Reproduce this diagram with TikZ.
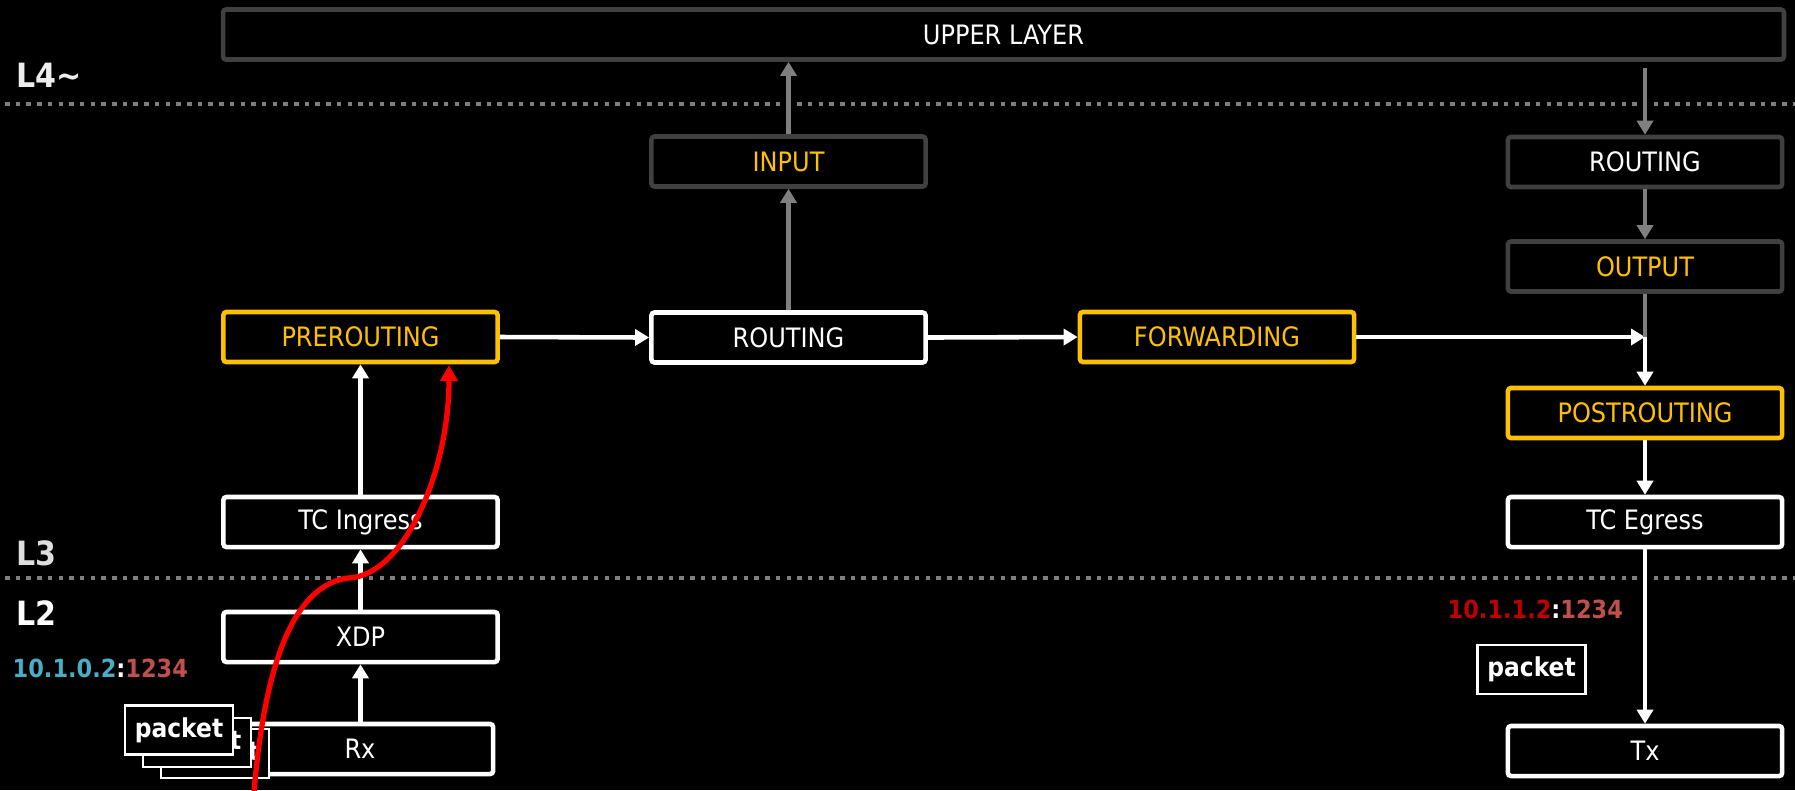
\documentclass[tikz,border=0pt]{standalone}
\usepackage{fontspec}
\setmainfont{DejaVu Sans Condensed}
\usetikzlibrary{arrows.meta}
\definecolor{hookgold}{HTML}{FFC000}
\definecolor{boxgray}{HTML}{404040}
\definecolor{flowgray}{HTML}{7F7F7F}
\definecolor{dotgray}{HTML}{7F7F7F}
\definecolor{ipblue}{HTML}{4BACC6}
\definecolor{ipred}{HTML}{C00000}
\definecolor{portred}{HTML}{C0504D}
\begin{document}
\begin{tikzpicture}[x=0.01cm,y=-0.01cm,
  stagebox/.style={draw, line width=1.3pt, rounded corners=0.03cm, fill=black,
    minimum width=2.74cm, minimum height=0.5cm, inner sep=0pt,
    font=\fontsize{7.6}{9}\selectfont},
  whitebox/.style={stagebox, draw=white, text=white},
  goldbox/.style={stagebox, draw=hookgold, text=hookgold},
  graybox/.style={stagebox, draw=boxgray, text=white},
  grayhook/.style={stagebox, draw=boxgray, text=hookgold},
  flow/.style={white, line width=1.3pt, -{Triangle[length=0.14cm,width=0.16cm]}},
  grayflow/.style={flowgray, line width=1.3pt, -{Triangle[length=0.14cm,width=0.16cm]}},
  layersep/.style={dotgray, line width=0.045cm, dash pattern=on 0.045cm off 0.062cm},
  layerlabel/.style={anchor=base west, inner sep=0pt, font=\fontsize{9.5}{11}\selectfont\bfseries},
  pkt/.style={draw=white, fill=black, line width=0.8pt, text=white, inner sep=0pt,
    minimum width=1.08cm, minimum height=0.49cm, font=\fontsize{7.4}{9}\selectfont\bfseries},
  addr/.style={anchor=base west, inner sep=0pt, font=\fontsize{7.1}{9}\selectfont\bfseries}
]
% canvas
\fill[black] (0,0) rectangle (1795,790);
\useasboundingbox (0,0) rectangle (1795,790);

% layer separators and labels
\draw[layersep] (5,104) -- (1795,104);
\draw[layersep] (5,578) -- (1795,578);
\node[layerlabel, text=white!93!black] (lfour) at (16,87) {L4\char"7E};
\node[layerlabel, text=white!87!black] (lthree) at (16,565) {L3};
\node[layerlabel, text=white] (ltwo) at (16,625) {L2};

% stages
\node[graybox, minimum width=15.6cm] (upper) at (1003.5,34.5) {UPPER LAYER};
\node[grayhook] (input) at (788.5,161.5) {INPUT};
\node[whitebox] (route) at (788.5,337.5) {ROUTING};
\node[goldbox] (pre) at (360.5,337) {PREROUTING};
\node[goldbox] (fwd) at (1217,337) {FORWARDING};
\node[graybox] (routeout) at (1645,162) {ROUTING};
\node[grayhook] (out) at (1645,266.5) {OUTPUT};
\node[goldbox] (post) at (1645,413) {POSTROUTING};
\node[whitebox] (tceg) at (1645,522) {TC Egress};
\node[whitebox] (tx) at (1645,751) {Tx};
\node[whitebox] (tcin) at (360.5,522) {TC Ingress};
\node[whitebox] (xdp) at (360.5,637) {XDP};
\node[whitebox, minimum width=2.66cm] (rx) at (360,749) {Rx};

\coordinate (join) at (1645,337);

% ingress path
\draw[flow] (xdp.south |- rx.north) -- (xdp.south);
\draw[flow] (xdp.north) -- (tcin.south);
\draw[flow] (tcin.north) -- (pre.south);
\draw[flow] (pre.east) -- (route.west);
\draw[flow] (route.east) -- (fwd.west);
\draw[flow] (fwd.east) -- (join);

% local delivery and local output
\draw[grayflow] (route.north) -- (input.south);
\draw[grayflow] (input.north) -- (input.north |- upper.south);
\draw[grayflow, shorten <=0.06cm] (routeout.north |- upper.south) -- (routeout.north);
\draw[grayflow] (routeout.south) -- (out.north);
\draw[flowgray, line width=1.3pt] (out.south) -- (join);

% egress path
\draw[flow] (join) -- (post.north);
\draw[flow] (post.south) -- (tceg.north);
\draw[flow] (tceg.south) -- (tx.north);

% packets
\node[pkt] (pktc) at (215,753.5) {packet};
\node[pkt] (pktb) at (197,742.5) {packet};
\node[pkt] (pkta) at (179,730) {packet};
\node[pkt] (pktout) at (1531.5,669.5) {packet};

% addresses
\node[addr] (srcaddr) at (12,677) {\textcolor{ipblue}{10.1.0.2}\textcolor{white}{:}\textcolor{portred}{1234}};
\node[addr] (dstaddr) at (1447,618) {\textcolor{ipred}{10.1.1.2}\textcolor{white}{:}\textcolor{portred}{1234}};

% packet trace
\coordinate (tracestart) at (254,792);
\coordinate (traceend) at (449,365);
\draw[red, line width=1.5pt, -{Triangle[length=0.16cm,width=0.17cm]}]
  (tracestart) .. controls (265,660) and (295,585) .. (348,578)
  .. controls (405,576) and (449,470) .. (traceend);
\end{tikzpicture}
\end{document}
